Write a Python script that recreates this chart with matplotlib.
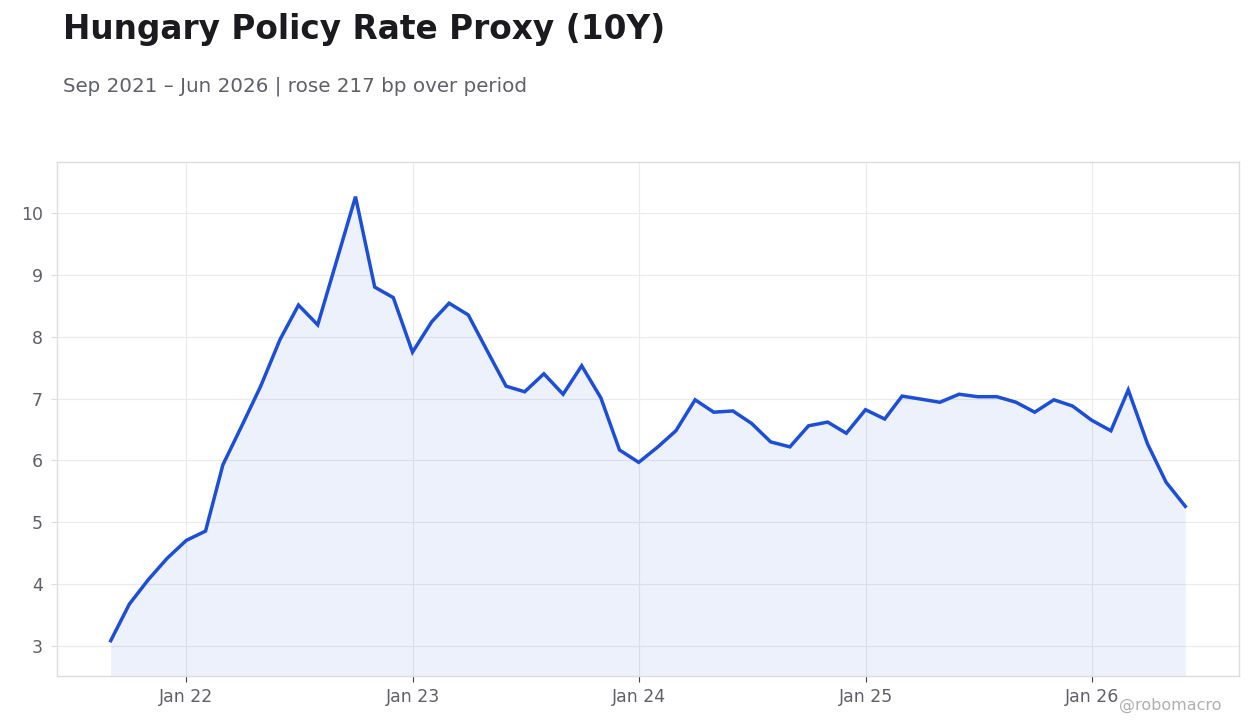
import matplotlib
matplotlib.use("Agg")
import matplotlib.pyplot as plt
import matplotlib.dates as mdates
import pandas as pd
import numpy as np

start_month = "2021-09-01"
values = [3.09, 3.68, 4.08, 4.42, 4.71, 4.86, 5.93, 6.57, 7.20, 7.95,
          8.51, 8.19, 9.24, 10.26, 8.80, 8.63, 7.75, 8.24, 8.54, 8.35,
          7.78, 7.20, 7.11, 7.40, 7.07, 7.53, 7.01, 6.17, 5.97, 6.22,
          6.48, 6.98, 6.78, 6.80, 6.60, 6.30, 6.22, 6.56, 6.62, 6.44,
          6.82, 6.67, 7.04, 6.99, 6.94, 7.07, 7.03, 7.03, 6.94, 6.78,
          6.98, 6.88, 6.65, 6.48, 7.14, 6.27, 5.65, 5.26]
dates = pd.date_range(start_month, periods=len(values), freq="MS")

title = "Hungary Policy Rate Proxy (10Y)"
subtitle = "Sep 2021 \u2013 Jun 2026 | rose 217 bp over period"
watermark = "@robomacro"
y_ticks = [3, 4, 5, 6, 7, 8, 9, 10]
y_limits = (2.52, 10.82)

line_color = "#1d4ed8"
text_dark = "#1a1a1f"
text_gray = "#5f6068"
grid_color = "#ebebeb"
spine_color = "#dddddd"

plt.rcParams["font.family"] = ["DejaVu Sans"]
fig = plt.figure(figsize=(12.6, 7.28), dpi=100)
ax = fig.add_axes([57/1260, 1-676/728, (1239-57)/1260, (676-162)/728])

ax.plot(dates, values, color=line_color, linewidth=2.5, solid_joinstyle="miter", zorder=3)
ax.fill_between(dates, values, y_limits[0], color=line_color, alpha=0.08, linewidth=0, zorder=2)

ax.set_ylim(*y_limits)
ax.set_yticks(y_ticks)
ax.margins(x=0.05)
ax.xaxis.set_major_locator(mdates.YearLocator(month=1, day=1))
ax.xaxis.set_major_formatter(mdates.DateFormatter("Jan %y"))

ax.grid(True, color=grid_color, linewidth=0.8, zorder=0)
ax.set_axisbelow(True)
for s in ax.spines.values():
    s.set_color(spine_color)
    s.set_linewidth(1.0)
ax.tick_params(axis="both", labelsize=12.5, labelcolor=text_gray, length=4, width=0.8)
ax.tick_params(axis="x", color="#444444", pad=5)
ax.tick_params(axis="y", color=spine_color, pad=6)

fig.text(63/1260, 1-30/728, title, fontsize=23.6, fontweight="bold", color=text_dark, va="center", ha="left")
fig.text(63/1260, 1-86/728, subtitle, fontsize=14.3, color=text_gray, va="center", ha="left")
fig.text(1222/1260, 1-705/728, watermark, fontsize=11.5, color="#b0b0b0", va="center", ha="right")

fig.savefig("out.png", dpi=100, facecolor="white")
